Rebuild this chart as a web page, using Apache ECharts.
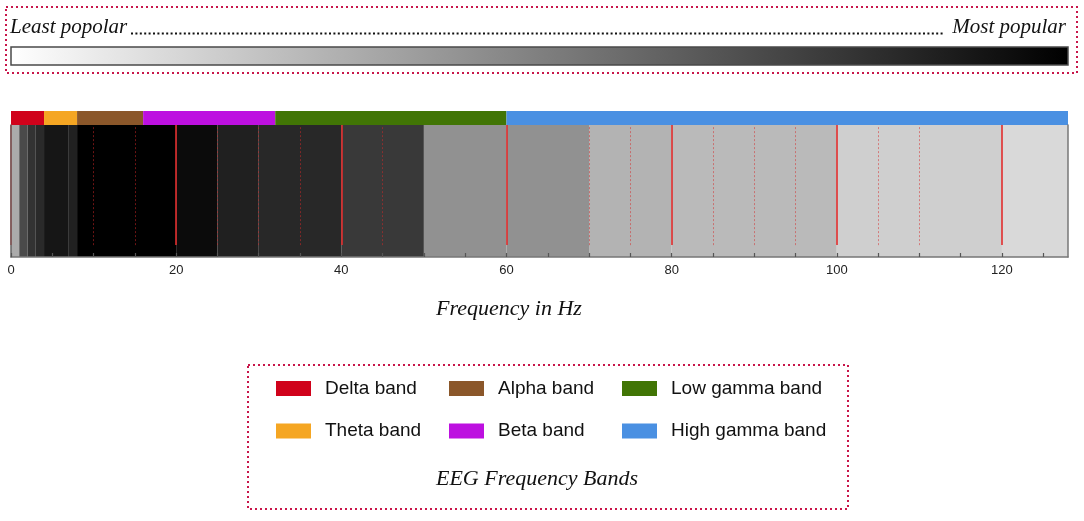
<!DOCTYPE html>
<html>
<head>
<meta charset="utf-8">
<style>
  html, body { margin: 0; padding: 0; background: #fff; }
  #chart-container { width: 1084px; height: 521px; }
</style>
<script src="https://cdn.jsdelivr.net/npm/echarts@6/dist/echarts.min.js"></script>
</head>
<body>
<div id="chart-container"></div>
<script>
// frequency bins (Hz) and how popular each bin is (0 = least, 1 = most)
const binStarts = [0, 1, 2, 3, 4, 7, 8, 20, 25, 30, 40, 50, 60, 70, 80, 100, 120];
const binEnds = [1, 2, 3, 4, 7, 8, 20, 25, 30, 40, 50, 60, 70, 80, 100, 120, 128];
const popularity = [0.33, 0.71, 0.8, 0.835, 0.915, 0.87, 1.0, 0.955, 0.875, 0.845, 0.775, 0.43, 0.43, 0.3, 0.27, 0.19, 0.15];

// EEG bands
const bandNames = ["Delta band", "Theta band", "Alpha band", "Beta band", "Low gamma band", "High gamma band"];
const bandStarts = [0, 4, 8, 16, 32, 60];
const bandEnds = [4, 8, 16, 32, 60, 128];

// red marker lines (Hz)
const solidMarks = [0, 20, 40, 60, 80, 100, 120];
const dottedMarks = [10, 15, 25, 30, 35, 45, 70, 75, 85, 90, 95, 105, 110];

// x axis ticks
const tickLabels = [0, 20, 40, 60, 80, 100, 120];

const bandPalette = ["#d0021b", "#f5a623", "#8b572a", "#bd10e0", "#417505", "#4a90e2"];
const serifFont = '"Liberation Serif", "DejaVu Serif", serif';
const sansFont = '"Liberation Sans", Arial, sans-serif';
const dotColor = "#c8164a";

var dom = document.getElementById("chart-container");
var myChart = echarts.init(dom, null, { renderer: "canvas" });

function renderSpan(params, api) {
  const p0 = api.coord([api.value(0), 1]);
  const p1 = api.coord([api.value(1), 0]);
  return {
    type: "rect",
    shape: { x: p0[0], y: p0[1], width: p1[0] - p0[0], height: p1[1] - p0[1] },
    style: { fill: api.visual("color") },
  };
}

const markData = [];
solidMarks.forEach((x) => {
  markData.push([
    { coord: [x, 0.09], lineStyle: { color: "rgba(225,45,45,0.8)", width: 2, type: "solid" } },
    { coord: [x, 1] },
  ]);
});
dottedMarks.forEach((x) => {
  markData.push([
    { coord: [x, 0.09], lineStyle: { color: "rgba(215,40,40,0.5)", width: 1, type: [2, 2] } },
    { coord: [x, 1] },
  ]);
});

const series = [
  {
    name: "popularity",
    type: "custom",
    xAxisIndex: 1,
    yAxisIndex: 1,
    renderItem: renderSpan,
    dimensions: ["start", "end", "popularity"],
    encode: { x: [0, 1], y: -1 },
    data: binStarts.map((s, i) => [s, binEnds[i], popularity[i]]),
    markLine: {
      silent: true,
      symbol: "none",
      label: { show: false },
      animation: false,
      data: markData,
    },
  },
];
bandNames.forEach((name, i) => {
  series.push({
    name: name,
    type: "custom",
    xAxisIndex: 0,
    yAxisIndex: 0,
    renderItem: renderSpan,
    encode: { x: [0, 1], y: -1 },
    itemStyle: { color: bandPalette[i] },
    data: [[bandStarts[i], bandEnds[i]]],
  });
});

function legendCol(names, left) {
  return {
    data: names,
    orient: "vertical",
    left: left,
    top: 379,
    padding: 0,
    itemGap: 23.5,
    itemWidth: 35,
    itemHeight: 15,
    icon: "rect",
    selectedMode: false,
    textStyle: { fontFamily: sansFont, fontSize: 19, color: "#111", padding: [0, 0, 0, 9] },
  };
}

var option = {
  animation: false,
  backgroundColor: "#fff",
  grid: [
    { left: 11, right: 16, top: 111, height: 14 },
    { left: 11, right: 16, top: 125, height: 132 },
  ],
  xAxis: [
    { gridIndex: 0, type: "value", min: 0, max: 128, show: false },
    {
      gridIndex: 1,
      type: "value",
      min: 0,
      max: 128,
      interval: 5,
      z: 10,
      axisLine: { lineStyle: { color: "#777", width: 1.5 } },
      axisTick: { inside: true, length: 4, lineStyle: { color: "#555", width: 1.2 } },
      axisLabel: {
        margin: 7,
        color: "#222",
        fontFamily: sansFont,
        fontSize: 13,
        showMaxLabel: false,
        formatter: (v) => (tickLabels.indexOf(v) >= 0 ? String(v) : ""),
      },
      splitLine: { show: false },
    },
  ],
  yAxis: [
    { gridIndex: 0, type: "value", min: 0, max: 1, show: false },
    {
      gridIndex: 1,
      type: "value",
      min: 0,
      max: 1,
      z: 10,
      axisLine: { show: true, lineStyle: { color: "#666", width: 1.5 } },
      axisTick: { show: false },
      axisLabel: { show: false },
      splitLine: { show: false },
    },
    {
      gridIndex: 1,
      type: "value",
      position: "right",
      min: 0,
      max: 1,
      z: 10,
      axisLine: { show: true, lineStyle: { color: "#777", width: 1.5 } },
      axisTick: { show: false },
      axisLabel: { show: false },
      splitLine: { show: false },
    },
  ],
  visualMap: {
    show: false,
    type: "continuous",
    seriesIndex: 0,
    dimension: 2,
    min: 0,
    max: 1,
    inRange: { color: ["#ffffff", "#000000"] },
  },
  legend: [
    legendCol(["Delta band", "Theta band"], 276),
    legendCol(["Alpha band", "Beta band"], 449),
    legendCol(["Low gamma band", "High gamma band"], 622),
  ],
  graphic: [
    // top colour scale box
    {
      type: "rect",
      shape: { x: 6, y: 7, width: 1071, height: 66 },
      style: { fill: null, stroke: dotColor, lineWidth: 2, lineDash: [2, 3] },
      silent: true,
    },
    {
      type: "text",
      style: { text: "Least popolar", x: 10, y: 27, font: "italic 21px " + serifFont, fill: "#111", verticalAlign: "middle" },
      silent: true,
    },
    {
      type: "text",
      style: { text: "Most popular", x: 1066, y: 27, font: "italic 21px " + serifFont, fill: "#111", align: "right", verticalAlign: "middle" },
      silent: true,
    },
    {
      type: "line",
      shape: { x1: 131, y1: 33.5, x2: 944, y2: 33.5 },
      style: { stroke: "#111", lineWidth: 2.2, lineDash: [2, 2.4] },
      silent: true,
    },
    {
      type: "rect",
      shape: { x: 11, y: 47, width: 1057, height: 18 },
      style: {
        fill: new echarts.graphic.LinearGradient(0, 0, 1, 0, [
          { offset: 0, color: "#ffffff" },
          { offset: 1, color: "#000000" },
        ]),
        stroke: "#4a4a4a",
        lineWidth: 1.5,
      },
      silent: true,
    },
    // axis title
    {
      type: "text",
      style: { text: "Frequency in Hz", x: 509, y: 309, font: "italic 22px " + serifFont, fill: "#111", align: "center", verticalAlign: "middle" },
      silent: true,
    },
    // legend box
    {
      type: "rect",
      shape: { x: 248, y: 365, width: 600, height: 144 },
      style: { fill: null, stroke: dotColor, lineWidth: 2, lineDash: [2, 3] },
      silent: true,
    },
    {
      type: "text",
      style: { text: "EEG Frequency Bands", x: 537, y: 479, font: "italic 22px " + serifFont, fill: "#111", align: "center", verticalAlign: "middle" },
      silent: true,
    },
  ],
  series: series,
};

if (option && typeof option === "object") {
  myChart.setOption(option);
}
window.addEventListener("resize", myChart.resize);
</script>
</body>
</html>
